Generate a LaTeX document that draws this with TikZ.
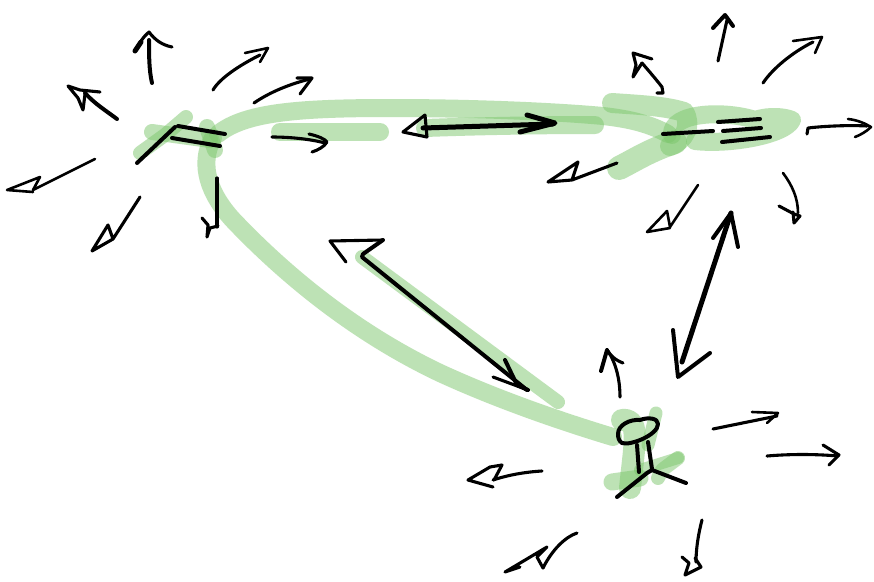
\documentclass[tikz,border=0pt]{standalone}
\definecolor{hl}{HTML}{7CC76C}
\tikzset{
  x=1pt,y=-1pt,
  ink/.style={draw=black,line cap=round,line join=round,line width=3.1pt},
  thinink/.style={ink,line width=2.6pt},
  heavyink/.style={ink,line width=4pt},
  boldink/.style={ink,line width=5pt},
  hlstroke/.style={draw=hl,opacity=.5,line cap=round,line join=round,line width=18pt},
  hlthin/.style={hlstroke,line width=14pt}
}
\begin{document}
\begin{tikzpicture}
\useasboundingbox (0,0) rectangle (874,581);
\fill[white] (0,0) rectangle (874,581);
% anchor points
\coordinate (hubL) at (218,134);
\coordinate (hubR) at (668,134);
\coordinate (hubB) at (613,437);
\coordinate (dAl) at (423,128);
\coordinate (dAr) at (553,124);
\coordinate (dBl) at (362,257);
\coordinate (dBr) at (527,390);
\coordinate (dCt) at (731,213);
\coordinate (dCb) at (680,375);
% highlights: links
\draw[hlstroke] (hubL) .. controls (245,112) and (300,108) .. (390,108) .. controls (480,108) and (560,112) .. (603,116) .. controls (630,119) and (650,124) .. (hubR);
\draw[hlstroke] (213,138) .. controls (198,165) and (210,195) .. (233,220) .. controls (290,280) and (360,335) .. (440,373) .. controls (490,396) and (550,418) .. (hubB);
\draw[hlstroke] (280,132) -- (380,132);
\draw[hlstroke] (425,128) .. controls (480,126) and (540,125) .. (595,125);
\draw[hlthin] (dBl) -- (558,402);
% highlights: left hub
\draw[hlstroke,line width=16pt] (152,132) -- (210,140);
\draw[hlstroke,line width=14pt] (140,153) -- (165,135) -- (186,117);
\draw[hlstroke,line width=16pt] (207,127) -- (215,150);
% highlights: right hub
\draw[hlstroke,line width=20pt] (612,103) .. controls (640,105) and (665,106) .. (684,112) .. controls (692,125) and (685,140) .. (670,146);
\draw[hlstroke,line width=24pt] (619,168) .. controls (635,160) and (650,150) .. (675,142);
\draw[hlstroke] (672,135) .. controls (670,112) and (725,110) .. (755,120) .. controls (770,115) and (785,117) .. (792,120) .. controls (785,135) and (730,145) .. (695,141);
% highlights: bottom hub
\draw[hlstroke,line width=22pt] (622,420) .. controls (640,418) and (635,440) .. (630,488);
\draw[hlstroke,line width=13pt] (656,413) -- (648,445);
\draw[hlstroke,line width=17pt] (612,482) -- (640,478);
\draw[hlstroke,line width=14pt] (658,478) -- (662,470) -- (678,458);
\draw[hlstroke,line width=12pt] (640,470) -- (678,458);
% left hub glyph
\draw[heavyink] (137,163) -- (175,127);
\draw[heavyink] (178,126) -- (225,134);
\draw[heavyink] (172,138) -- (220,146);
% left hub rays
\draw[heavyink] (152,83) .. controls (149,70) and (149,55) .. (149,40);
\draw[ink] (135,51) .. controls (140,42) and (144,36) .. (149,32) .. controls (155,40) and (162,45) .. (172,47);
\draw[boldink] (135,51) -- (141,42);
\draw[ink] (213,90) .. controls (220,78) and (240,65) .. (260,55);
\draw[thinink] (245,53) -- (268,48) -- (260,62);
\draw[ink] (254,103) .. controls (270,92) and (290,84) .. (310,79);
\draw[ink] (297,78) -- (312,78) -- (300,94);
\draw[ink] (272,137) .. controls (290,137) and (310,139) .. (325,143);
\draw[ink] (309,134) .. controls (318,136) and (325,139) .. (327,142) .. controls (324,147) and (318,150) .. (312,152);
\draw[ink] (217,178) -- (217,227);
\draw[ink] (202,218) -- (208,225) -- (207,237) -- (210,228) -- (218,226);
\draw[ink] (140,197) -- (113,239) -- (108,225) -- (92,251) -- (113,239);
\draw[thinink] (95,159) -- (33,190) -- (40,177) -- (7,190) -- (33,192);
\draw[heavyink] (117,119) .. controls (105,110) and (95,104) .. (85,93);
\draw[ink] (100,92) -- (80,90) -- (68,86) -- (78,98) -- (83,110) -- (85,94);
% right hub glyph
\draw[heavyink] (663,134) -- (713,131);
\draw[heavyink] (718,122) -- (760,119);
\draw[heavyink] (723,131) -- (761,128);
\draw[heavyink] (722,142) -- (770,137);
% right hub rays
\draw[ink] (657,93) -- (663,93) -- (662,87) .. controls (655,78) and (648,70) .. (642,63);
\draw[ink] (652,59) -- (633,53) -- (636,65) -- (633,77) -- (642,63);
\draw[ink] (718,61) -- (727,20);
\draw[heavyink] (713,28) -- (725,15) -- (733,26);
\draw[ink] (763,83) .. controls (773,68) and (793,52) .. (813,42);
\draw[thinink] (793,41) -- (822,37) -- (815,53);
\draw[ink] (807,134) -- (808,128) .. controls (825,126) and (850,125) .. (867,126);
\draw[thinink] (848,119) .. controls (858,120) and (866,124) .. (871,127) .. controls (866,132) and (860,135) .. (855,137);
\draw[thinink] (783,173) .. controls (792,185) and (798,198) .. (798,213);
\draw[ink] (779,206) -- (794,214) -- (800,216) -- (794,223) -- (793,212);
\draw[thinink] (698,185) -- (670,227) -- (667,211) -- (647,232) -- (670,228);
\draw[ink] (617,163) -- (572,180) -- (578,162) -- (548,182) -- (572,180);
% bottom hub glyph
\draw[heavyink] (618,434) .. controls (618,425) and (630,419) .. (640,420) .. controls (648,417) and (658,418) .. (658,424) .. controls (658,435) and (630,446) .. (622,443) .. controls (619,441) and (618,438) .. (618,434);
\draw[heavyink] (637,445) -- (639,472);
\draw[heavyink] (648,442) -- (652,469);
\draw[heavyink] (617,497) -- (647,473) -- (652,470) -- (686,483);
% bottom hub rays
\draw[ink] (620,397) .. controls (620,382) and (617,365) .. (608,351);
\draw[ink] (623,363) .. controls (615,360) and (610,355) .. (607,350);
\draw[heavyink] (601,371) -- (607,350);
\draw[ink] (713,429) -- (777,416);
\draw[thinink] (752,412) -- (778,413) -- (767,423);
\draw[ink] (767,456) .. controls (790,454) and (815,454) .. (838,456);
\draw[ink] (823,445) -- (839,455) -- (829,465);
\draw[ink] (702,520) .. controls (698,535) and (696,550) .. (696,562);
\draw[ink] (682,557) -- (689,563) -- (685,575) -- (701,567) -- (695,558);
\draw[ink] (577,533) .. controls (565,537) and (552,550) .. (543,568);
\draw[ink] (543,568) -- (537,557) -- (547,547) -- (505,572) -- (520,567);
\draw[ink] (542,471) .. controls (525,472) and (508,475) .. (493,480);
\draw[ink] (493,487) -- (468,480) -- (490,467) -- (502,465) -- (494,480);
% links between hubs
\draw[boldink] (dAl) -- (dAr);
\draw[ink] (425,115) -- (403,132) -- (427,137) -- (425,115);
\draw[boldink] (527,115) -- (555,123) -- (520,132);
\draw[heavyink] (383,240) -- (363,254) -- (dBl) -- (dBr);
\draw[ink] (383,240) -- (330,241) -- (346,262);
\draw[ink] (493,377) -- (528,390);
\draw[heavyink] (505,360) -- (517,385) -- (528,390);
\draw[boldink] (dCt) -- (682,362);
\draw[heavyink] (713,238) -- (731,213) -- (738,247);
\draw[heavyink] (673,330) -- (678,377) -- (710,353);
\end{tikzpicture}
\end{document}
